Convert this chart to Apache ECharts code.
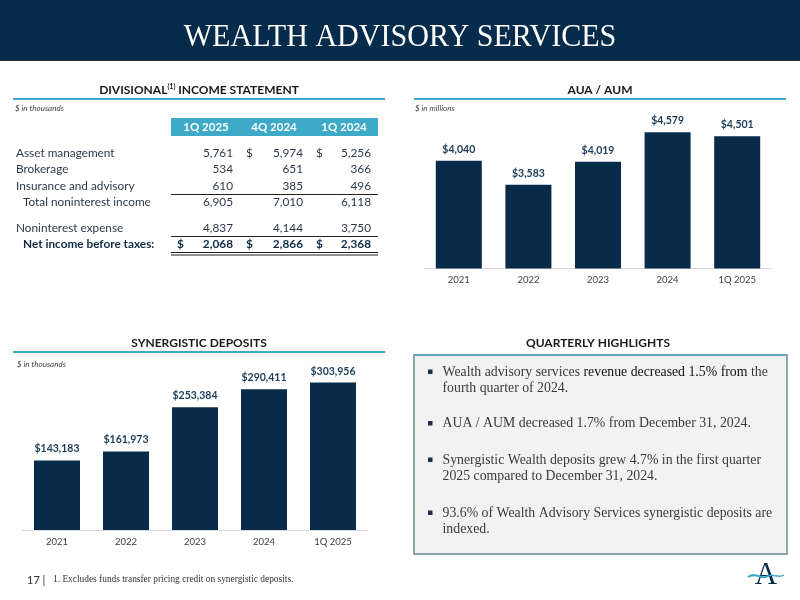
<!DOCTYPE html>
<html><head><meta charset="utf-8">
<script src="https://cdn.jsdelivr.net/npm/echarts@6/dist/echarts.min.js"></script>
<style>html,body{margin:0;padding:0;background:#fff}#c{width:800px;height:600px}</style>
</head><body><div id="c"></div>
<script>
// ---- data ----
const aumCategories = ['2021', '2022', '2023', '2024', '1Q 2025'];
const aumValues = [4040, 3583, 4019, 4579, 4501];
const depCategories = ['2021', '2022', '2023', '2024', '1Q 2025'];
const depValues = [143183, 161973, 253384, 290411, 303956];
const tableColumns = ['1Q 2025', '4Q 2024', '1Q 2024'];
const rowLabels = ['Asset management', 'Brokerage', 'Insurance and advisory', 'Total noninterest income', 'Noninterest expense', 'Net income before taxes:'];
const assetManagement = [5761, 5974, 5256];
const brokerage = [534, 651, 366];
const insuranceAdvisory = [610, 385, 496];
const totalNoninterestIncome = [6905, 7010, 6118];
const noninterestExpense = [4837, 4144, 3750];
const netIncomeBeforeTaxes = [2068, 2866, 2368];
const highlightLines = [
  [['Wealth advisory services ', 'n'], ['revenue decreased 1.5% from', 'd'], [' the', 'n']],
  [['fourth quarter of 2024.', 'n']],
  [['AUA / AUM decreased 1.7% from December 31, 2024.', 'n']],
  [['Synergistic Wealth deposits grew 4.7% in the first quarter', 'n']],
  [['2025 compared to December 31, 2024.', 'n']],
  [['93.6% of Wealth Advisory Services synergistic deposits are', 'n']],
  [['indexed.', 'n']]
];
const bulletStarts = [0, 2, 3, 5];
const footnote = '1. Excludes funds transfer pricing credit on synergistic deposits.';
const pageNumber = '17 |';

// ---- style ----
const NAVY = '#082b4a';
const TEAL = '#3eaac8';
const SANS = 'Lato';
const SERIF = 'Liberation Serif';
const fmt = v => v.toLocaleString('en-US');

function T(x, y, text, o) {
  o = o || {};
  const st = Object.assign({
    text: text, fill: '#333', font: '11px ' + SANS,
    textAlign: o.align || 'left', textVerticalAlign: 'middle',
    align: o.align || 'left', verticalAlign: 'middle'
  }, o.style || {});
  const el = { type: 'text', x: x, y: y, silent: true, style: st };
  if (o.scaleX) { el.scaleX = o.scaleX; }
  return el;
}
function L(x1, y1, x2, y2, color, w) {
  return { type: 'line', silent: true, shape: { x1, y1, x2, y2 }, style: { stroke: color, lineWidth: w || 1 } };
}
function R(x, y, w, h, style) {
  return { type: 'rect', silent: true, shape: { x, y, width: w, height: h }, style: style };
}

const g = [];
// header
g.push(R(0, 0, 800, 60, { fill: '#062b4b' }));
g.push(L(0, 60.5, 800, 60.5, '#333', 1));
g.push(T(400, 38, 'WEALTH ADVISORY SERVICES', { align: 'center', scaleX: 0.94, style: { fill: '#fff', font: '32px ' + SERIF } }));

// section titles
function sectionTitle(cx, y, x1, x2, rich) {
  g.push({ type: 'text', x: cx, y: y, silent: true, style: {
    text: rich.text, rich: rich.rich, textAlign: 'center', align: 'center', textVerticalAlign: 'middle', verticalAlign: 'middle',
    fill: '#1a1a1a', font: 'bold 12px ' + SANS } });
  if (x1 < 800) g.push(L(x1, y + 9, x2, y + 9, TEAL, 2));
}
sectionTitle(199, 90, 13, 385, { text: '{a|DIVISIONAL}{s|(1)}{a| INCOME STATEMENT}', rich: {
  a: { font: 'bold 12px ' + SANS, fill: '#1a1a1a' }, s: { font: 'bold 7px ' + SANS, fill: '#1a1a1a', padding: [0, 0, 7, 0] } } });
sectionTitle(600, 90, 414, 786, { text: 'AUA / AUM' });
sectionTitle(199, 343, 13, 385, { text: 'SYNERGISTIC DEPOSITS' });
sectionTitle(598, 343, 9999, 9999, { text: 'QUARTERLY HIGHLIGHTS' });

const noteStyle = { fill: '#444', font: 'italic 8px ' + SANS };
g.push(T(15, 108, '$ in thousands', { style: noteStyle }));
g.push(T(415, 108, '$ in millions', { style: noteStyle }));
g.push(T(17, 364, '$ in thousands', { style: noteStyle }));

// table
const colRight = [233, 303, 371];
const colCenter = [206, 274, 344];
const dollarX = [177, 246, 316];
g.push(R(171, 118, 207, 18, { fill: TEAL }));
tableColumns.forEach((c, i) => g.push(T(colCenter[i], 127, c, { align: 'center', style: { fill: '#fff', font: 'bold 11.5px ' + SANS } })));
const rows = [
  { label: rowLabels[0], vals: assetManagement, y: 153, dollars: [false, true, true], x: 16 },
  { label: rowLabels[1], vals: brokerage, y: 169.5, dollars: [false, false, false], x: 16 },
  { label: rowLabels[2], vals: insuranceAdvisory, y: 186, dollars: [false, false, false], x: 16 },
  { label: rowLabels[3], vals: totalNoninterestIncome, y: 202.5, dollars: [false, false, false], x: 23 },
  { label: rowLabels[4], vals: noninterestExpense, y: 228, dollars: [false, false, false], x: 16 },
  { label: rowLabels[5], vals: netIncomeBeforeTaxes, y: 244.5, dollars: [true, true, true], x: 23, bold: true }
];
rows.forEach(r => {
  const f = (r.bold ? 'bold ' : '') + '11.8px ' + SANS;
  const col = r.bold ? '#0f2a45' : '#2b3a4a';
  g.push(T(r.x, r.y, r.label, { style: { fill: col, font: f } }));
  r.vals.forEach((v, i) => {
    g.push(T(colRight[i], r.y, fmt(v), { align: 'right', style: { fill: col, font: f } }));
    if (r.dollars[i]) g.push(T(dollarX[i], r.y, '$', { style: { fill: col, font: f } }));
  });
});
g.push(L(171, 194.5, 378, 194.5, '#222', 1));
g.push(L(171, 236.5, 378, 236.5, '#222', 1));
g.push(L(171, 252.5, 378, 252.5, '#222', 1));
g.push(L(171, 255, 378, 255, '#222', 1));

// highlights box
g.push(R(414, 355, 373, 199, { fill: '#f2f2f2', stroke: '#6a8c9a', lineWidth: 1.5 }));
g.push(L(414, 355, 787, 355, '#5aa2b8', 1.5));
const lineYs = [372, 388, 423.5, 460, 476, 513, 529];
highlightLines.forEach((segs, i) => {
  const text = segs.map(s => '{' + s[1] + '|' + s[0] + '}').join('');
  g.push({ type: 'text', x: 442.5, y: lineYs[i], silent: true, style: {
    text: text, textVerticalAlign: 'middle', verticalAlign: 'middle',
    rich: { n: { font: '13.8px ' + SERIF, fill: '#3a3a3a' }, d: { font: '13.8px ' + SERIF, fill: '#111' } } } });
  if (bulletStarts.indexOf(i) >= 0) g.push(R(428, lineYs[i] - 2.5, 4.5, 4.5, { fill: '#1a2f45' }));
});

// footer
g.push(T(27, 580, pageNumber, { style: { fill: '#333', font: '11px ' + SANS } }));
g.push(T(53, 580, footnote, { style: { fill: '#333', font: '9.4px ' + SERIF } }));

// logo
g.push(T(766, 576, 'A', { align: 'center', style: { fill: NAVY, font: '31px ' + SERIF } }));
g.push({ type: 'bezierCurve', silent: true, shape: { x1: 748, y1: 577, cpx1: 756, cpy1: 571, cpx2: 762, cpy2: 581, x2: 768, y2: 576 }, style: { stroke: '#3eaac8', lineWidth: 2, fill: 'none' } });
g.push({ type: 'bezierCurve', silent: true, shape: { x1: 766, y1: 577, cpx1: 772, cpy1: 572, cpx2: 778, cpy2: 579, x2: 784, y2: 575 }, style: { stroke: '#3eaac8', lineWidth: 1.5, fill: 'none' } });

const chart = echarts.init(document.getElementById('c'), null, { renderer: 'canvas' });
const axisCommon = {
  type: 'category',
  axisLine: { lineStyle: { color: '#d9d9d9', width: 1 } },
  axisTick: { show: false },
  axisLabel: { color: '#404040', fontSize: 9.5, fontFamily: SANS, margin: 7 }
};
const labelCommon = { show: true, position: 'top', distance: 6, color: '#1d3b58', fontWeight: 'bold', fontSize: 10.5, fontFamily: SANS };
chart.setOption({
  animation: false,
  grid: [
    { left: 424, top: 110, width: 348, height: 158.4 },
    { left: 22.5, top: 360.3, width: 345, height: 169.7 }
  ],
  xAxis: [
    Object.assign({ gridIndex: 0, data: aumCategories }, axisCommon),
    Object.assign({ gridIndex: 1, data: depCategories }, axisCommon)
  ],
  yAxis: [
    { type: 'value', gridIndex: 0, min: 2000, max: 5000, show: false },
    { type: 'value', gridIndex: 1, min: 0, max: 350000, show: false }
  ],
  series: [
    { type: 'bar', xAxisIndex: 0, yAxisIndex: 0, data: aumValues, barWidth: 46, itemStyle: { color: NAVY },
      label: Object.assign({ formatter: p => '$' + fmt(p.value) }, labelCommon), silent: true },
    { type: 'bar', xAxisIndex: 1, yAxisIndex: 1, data: depValues, barWidth: 46, itemStyle: { color: NAVY },
      label: Object.assign({ formatter: p => '$' + fmt(p.value) }, labelCommon), silent: true }
  ],
  graphic: { elements: g }
});
</script></body></html>
